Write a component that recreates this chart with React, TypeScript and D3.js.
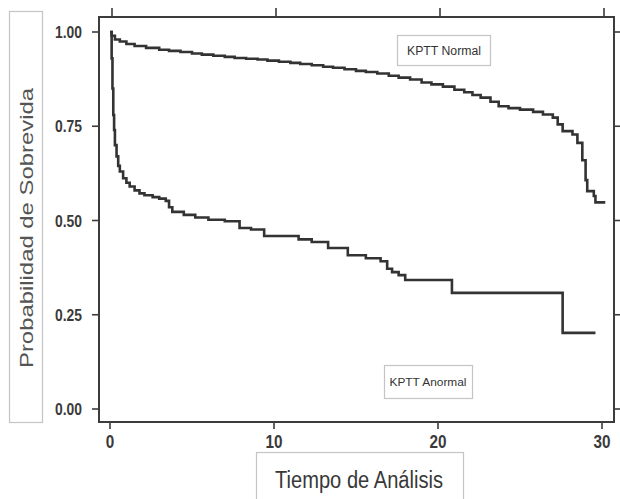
import React from "react";
import * as d3 from "d3";

const xTicks = [0, 10, 20, 30];
const xTickLabels = ["0", "10", "20", "30"];
const yTicks = [0, 0.25, 0.5, 0.75, 1];
const yTickLabels = ["0.00", "0.25", "0.50", "0.75", "1.00"];

const normalTime = [0, 0.1, 0.3, 0.6, 1.0, 1.5, 2.2, 3.0, 3.6, 4.3, 5.0, 5.6, 6.3, 7.0, 7.6, 8.3, 9.0, 9.6, 10.3, 11.0, 11.6, 12.3, 13.0, 13.6, 14.3, 15.0, 15.6, 16.3, 17.0, 17.6, 18.3, 19.0, 19.6, 20.3, 21.0, 21.6, 22.1, 22.6, 23.2, 23.7, 24.3, 25.0, 25.8, 26.4, 27.0, 27.3, 27.6, 28.2, 28.5, 28.8, 29.0, 29.1, 29.5, 29.6, 30.2];
const normalSurv = [1.0, 0.99, 0.98, 0.975, 0.968, 0.963, 0.958, 0.953, 0.95, 0.947, 0.943, 0.94, 0.937, 0.934, 0.931, 0.929, 0.927, 0.924, 0.921, 0.918, 0.915, 0.912, 0.908, 0.905, 0.901, 0.897, 0.894, 0.89, 0.884, 0.879, 0.874, 0.866, 0.861, 0.855, 0.847, 0.84, 0.833, 0.826, 0.815, 0.803, 0.798, 0.794, 0.788, 0.781, 0.773, 0.755, 0.737, 0.728, 0.706, 0.66, 0.607, 0.578, 0.565, 0.548, 0.548];

const anormalTime = [0, 0.1, 0.15, 0.2, 0.25, 0.3, 0.4, 0.5, 0.6, 0.8, 1.0, 1.2, 1.5, 1.8, 2.1, 2.6, 3.0, 3.4, 3.6, 3.8, 4.5, 5.2, 6.0, 7.0, 7.9, 8.6, 9.4, 11.5, 12.3, 13.3, 14.5, 15.6, 16.5, 16.9, 17.2, 17.6, 18.0, 20.85, 27.6, 29.6];
const anormalSurv = [1.0, 0.93, 0.85, 0.78, 0.74, 0.7, 0.67, 0.645, 0.63, 0.612, 0.6, 0.59, 0.58, 0.572, 0.567, 0.562, 0.558, 0.552, 0.535, 0.523, 0.515, 0.508, 0.502, 0.498, 0.48, 0.476, 0.459, 0.45, 0.443, 0.427, 0.408, 0.4, 0.392, 0.372, 0.363, 0.355, 0.342, 0.308, 0.202, 0.202];

const FONT = "'Liberation Sans', Arial, sans-serif";
const frameColor = "#3c3c3c";
const curveColor = "#333";

export default function App() {
  const x = d3.scaleLinear().domain([0, 30]).range([110, 602]);
  const y = d3.scaleLinear().domain([0, 1]).range([409, 32]);
  const left = 99, right = 614, top = 17, bottom = 422;

  const line = d3
    .line<[number, number]>()
    .x((d) => x(d[0]))
    .y((d) => y(d[1]))
    .curve(d3.curveStepAfter);

  const normalPts = normalTime.map((t, i) => [t, normalSurv[i]] as [number, number]);
  const anormalPts = anormalTime.map((t, i) => [t, anormalSurv[i]] as [number, number]);

  return (
    <svg
      width={620}
      height={499}
      style={{ position: "absolute", left: 0, top: 0, background: "#fff" }}
      fontFamily={FONT}
    >
      <rect x={0} y={0} width={620} height={499} fill="#fff" />
      {/* Y label box */}
      <rect x={9.5} y={11.5} width={33} height={411} fill="none" stroke="#c4c4c4" strokeWidth={1.2} />
      <text
        transform={`translate(33,228) rotate(-90)`}
        textAnchor="middle"
        fontSize={19}
        fill="#555"
        textLength={280}
        lengthAdjust="spacingAndGlyphs"
      >
        Probabilidad de Sobrevida
      </text>

      {/* X label box */}
      <rect x={256.5} y={452.5} width={207} height={60} fill="none" stroke="#c4c4c4" strokeWidth={1.2} />
      <text
        x={359}
        y={488}
        textAnchor="middle"
        fontSize={23}
        fill="#383838"
        textLength={168}
        lengthAdjust="spacingAndGlyphs"
      >
        Tiempo de Análisis
      </text>

      {/* Frame */}
      <rect x={left} y={top} width={right - left} height={bottom - top} fill="none" stroke={frameColor} strokeWidth={2} />

      {/* Y ticks left and right */}
      {yTicks.map((v, i) => (
        <g key={"y" + i}>
          <line x1={92} x2={left} y1={y(v)} y2={y(v)} stroke={frameColor} strokeWidth={1.6} />
          <line x1={right} x2={620} y1={y(v)} y2={y(v)} stroke={frameColor} strokeWidth={1.6} />
          <text
            x={82}
            y={y(v) + 6}
            textAnchor="end"
            fontSize={17}
            fontWeight={600}
            fill="#3a3a3a"
            textLength={27}
            lengthAdjust="spacingAndGlyphs"
          >
            {yTickLabels[i]}
          </text>
        </g>
      ))}

      {/* X ticks bottom and top */}
      {xTicks.map((v, i) => (
        <g key={"x" + i}>
          <line x1={x(v)} x2={x(v)} y1={bottom} y2={429} stroke={frameColor} strokeWidth={1.6} />
          <line x1={x(v) + 2} x2={x(v) + 2} y1={top} y2={8} stroke={frameColor} strokeWidth={1.6} />
          <text
            x={x(v)}
            y={448}
            textAnchor="middle"
            fontSize={18}
            fontWeight={600}
            fill="#3a3a3a"
            textLength={xTickLabels[i].length * 8.5}
            lengthAdjust="spacingAndGlyphs"
          >
            {xTickLabels[i]}
          </text>
        </g>
      ))}

      {/* Curves */}
      <path d={line(normalPts) || ""} fill="none" stroke={curveColor} strokeWidth={2.6} />
      <path d={line(anormalPts) || ""} fill="none" stroke={curveColor} strokeWidth={2.6} />

      {/* Legend boxes */}
      <rect x={397.5} y={35.5} width={93} height={30} fill="#fff" stroke="#c4c4c4" strokeWidth={1.2} />
      <text x={444} y={55} textAnchor="middle" fontSize={12} fill="#333" textLength={74} lengthAdjust="spacingAndGlyphs">
        KPTT Normal
      </text>
      <rect x={384.5} y={365.5} width={88} height={33} fill="#fff" stroke="#c4c4c4" strokeWidth={1.2} />
      <text x={428} y={386} textAnchor="middle" fontSize={11.5} fill="#333" textLength={77} lengthAdjust="spacingAndGlyphs">
        KPTT Anormal
      </text>
    </svg>
  );
}
